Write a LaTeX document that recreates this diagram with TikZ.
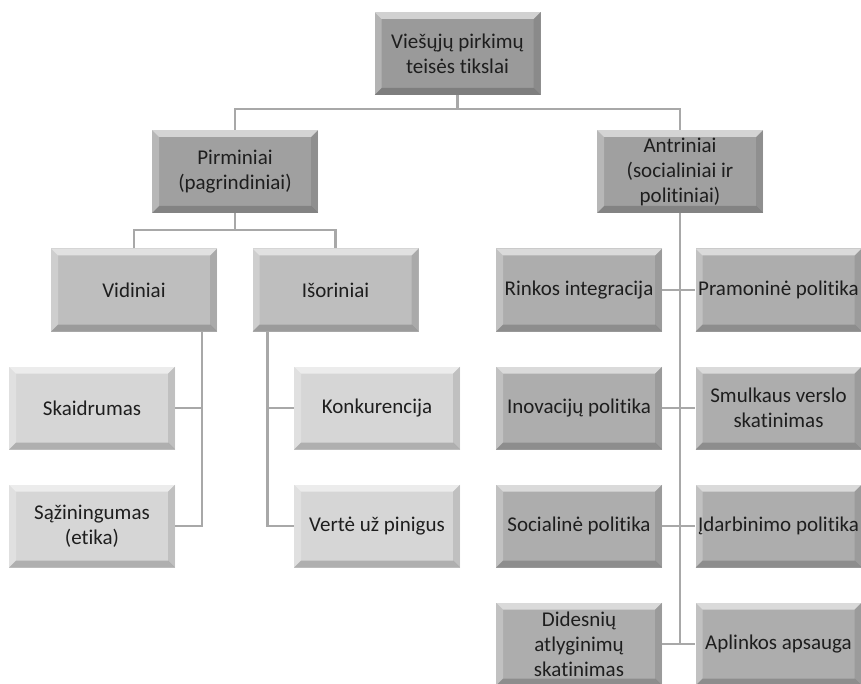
\documentclass[tikz,border=0pt]{standalone}
\usepackage{fontspec}
\setmainfont{Carlito}[Ligatures=NoCommon]
\usetikzlibrary{calc}
\definecolor{topgray}{HTML}{9A9A9A}
\definecolor{maingray}{HTML}{A0A0A0}
\definecolor{midgray}{HTML}{BEBEBE}
\definecolor{lightgray}{HTML}{D6D6D6}
\definecolor{sidegray}{HTML}{ADADAD}
\definecolor{linegray}{HTML}{A8A8A8}
\definecolor{textgray}{HTML}{1E1E1E}
\tikzset{every node/.style={font=\fontsize{21}{25}\selectfont, text=textgray}}
\tikzset{
  bevelbox/.style={rectangle, inner sep=0pt, align=center,
    minimum width=166pt, minimum height=83pt, fill=#1,
    path picture={
      \coordinate (nw) at (path picture bounding box.north west);
      \coordinate (ne) at (path picture bounding box.north east);
      \coordinate (sw) at (path picture bounding box.south west);
      \coordinate (se) at (path picture bounding box.south east);
      % bevel faces
      \fill[white,opacity=.55] (nw) -- (ne) -- ([shift={(-7pt,-7pt)}]ne)
           -- ([shift={(7pt,-7pt)}]nw) -- cycle;
      \fill[white,opacity=.25] (nw) -- ([shift={(7pt,-7pt)}]nw)
           -- ([shift={(7pt,7pt)}]sw) -- (sw) -- cycle;
      \fill[black,opacity=.18] (sw) -- (se) -- ([shift={(-7pt,7pt)}]se)
           -- ([shift={(7pt,7pt)}]sw) -- cycle;
      \fill[black,opacity=.10] (ne) -- (se) -- ([shift={(-7pt,7pt)}]se)
           -- ([shift={(-7pt,-7pt)}]ne) -- cycle;
    }},
  link/.style={draw=linegray, line width=2.5pt}
}
\begin{document}
\begin{tikzpicture}[x=1pt,y=-1pt]
\useasboundingbox (0,0) rectangle (861,684);
% boxes
\node[bevelbox=topgray] (top) at (457.5,53.5) {Viešųjų pirkimų\\teisės tikslai};
\node[bevelbox=maingray] (pirm) at (235,171.5) {Pirminiai\\(pagrindiniai)};
\node[bevelbox=maingray] (antr) at (680,171.5) {Antriniai\\(socialiniai ir\\politiniai)};
\node[bevelbox=midgray] (vid) at (134,290) {Vidiniai};
\node[bevelbox=midgray] (isor) at (335.5,290) {Išoriniai};
\node[bevelbox=lightgray] (skaid) at (92,408) {Skaidrumas};
\node[bevelbox=lightgray] (saz) at (92,526) {Sąžiningumas\\(etika)};
\node[bevelbox=lightgray] (konk) at (377,408) {Konkurencija};
\node[bevelbox=lightgray] (verte) at (377,526) {Vertė už pinigus};
\node[bevelbox=sidegray] (rinkos) at (579,290) {Rinkos integracija};
\node[bevelbox=sidegray] (pramon) at (778.5,290) {Pramoninė politika};
\node[bevelbox=sidegray] (inov) at (579,408) {Inovacijų politika};
\node[bevelbox=sidegray] (smulk) at (778.5,408) {Smulkaus verslo\\skatinimas};
\node[bevelbox=sidegray] (soc) at (579,526) {Socialinė politika};
\node[bevelbox=sidegray] (idarb) at (778.5,526) {Įdarbinimo politika};
\node[bevelbox=sidegray] (didesn) at (579,644) {Didesnių\\atlyginimų\\skatinimas};
\node[bevelbox=sidegray] (aplink) at (778.5,644) {Aplinkos apsauga};
% connectors
\coordinate (j1) at (457.5,109);
\coordinate (j2) at (235,230);
\draw[link] (top) -- (j1);
\draw[link] (pirm.north) |- (j1) -| (antr.north);
\draw[link] (pirm) -- (j2);
\draw[link] (vid.north) |- (j2) -| (isor.north);
\coordinate (vbus) at ([xshift=-15pt]vid.south east);
\draw[link] (vbus) |- (saz);
\draw[link] (skaid) -- (skaid -| vbus);
\coordinate (ibus) at ([xshift=15pt]isor.south west);
\draw[link] (ibus) |- (verte);
\draw[link] (konk) -- (konk -| ibus);
\coordinate (abus) at (didesn -| antr);
\draw[link] (antr) -- (abus);
\foreach \l/\r in {rinkos/pramon, inov/smulk, soc/idarb, didesn/aplink}
  \draw[link] (\l) -- (\r);
\end{tikzpicture}
\end{document}
